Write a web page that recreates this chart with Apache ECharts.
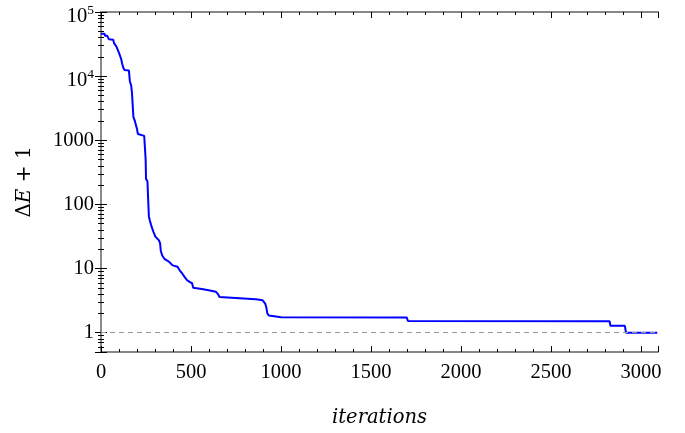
<!DOCTYPE html>
<html>
<head>
<meta charset="utf-8">
<script src="https://cdn.jsdelivr.net/npm/echarts@6/dist/echarts.min.js"></script>
<style>
  html, body { margin: 0; padding: 0; background: #fff; }
  #chart { width: 685px; height: 433px; }
</style>
</head>
<body>
<div id="chart"></div>
<script>
// Best energy gap found so far (ΔE + 1) against optimiser iteration
var iterations = [0, 20, 22, 35, 44, 68, 72, 85, 100, 112, 118, 124, 130, 155, 160, 168, 172, 180, 188, 196,
  200, 205, 212, 240, 244, 248, 250, 258, 262, 266, 272, 278, 285, 292, 302, 312, 322, 328, 332, 340,
  352, 370, 382, 398, 425, 438, 452, 466, 478, 492, 506, 512, 540, 568, 605, 638, 650, 658, 662, 860,
  870, 898, 905, 912, 918, 924, 932, 942, 1000, 1698, 1705, 2825, 2830, 2910, 2916, 3090];
var deltaE = [46000, 46000, 42500, 42500, 37500, 37000, 33000, 29000, 23000, 18500, 15500, 13500, 12500, 12200, 8500, 7000, 5500, 2300, 2000, 1900,
  1500, 1250, 1180, 1170, 1100, 500, 250, 230, 120, 65, 55, 48, 42, 37, 31.5, 30, 27.5, 25, 19, 16,
  14.2, 13.2, 12.4, 11.2, 10.7, 9.3, 8.3, 7.3, 6.6, 6.2, 5.9, 5.0, 4.9, 4.75, 4.55, 4.35, 4.0, 3.6, 3.38, 3.33,
  3.3, 3.2, 3.15, 2.85, 2.5, 2.0, 1.85, 1.76, 1.74, 1.73, 1.52, 1.51, 1.28, 1.28, 1.0, 1.0];
var referenceLevel = 1;
var xRange = [0, 3094];
var yRange = [0.5, 100000];
var xTickStep = 500;

var FONT = 'Liberation Serif';
var NAME_FONT = 'DejaVu Serif';
var frameColor = '#888';

function yLabel(value) {
  var e = Math.log10(value);
  var r = Math.round(e);
  if (Math.abs(e - r) > 1e-6) return '';
  if (r >= 4) return '{b|10}{s|' + r + '}';
  return String(Math.round(value));
}

var points = iterations.map(function (it, i) { return [it, deltaE[i]]; });

var commonX = {
  type: 'value',
  min: xRange[0],
  max: xRange[1],
  interval: xTickStep,
  splitLine: { show: false },
  axisLine: { show: true, onZero: false, lineStyle: { color: frameColor, width: 2 } },
  axisTick: { show: true, inside: true, length: 6, lineStyle: { color: '#000', width: 1 } },
  minorTick: { show: true, splitNumber: 5, length: 3, lineStyle: { color: '#000', width: 1 } },
  minorSplitLine: { show: false }
};
var commonY = {
  type: 'log',
  logBase: 10,
  min: yRange[0],
  max: yRange[1],
  splitLine: { show: false },
  axisLine: { show: true, lineStyle: { color: frameColor, width: 2 } },
  axisTick: { show: true, inside: true, length: 6, lineStyle: { color: '#000', width: 1 } },
  minorTick: { show: true, splitNumber: 9, length: 3, lineStyle: { color: '#000', width: 1 } },
  minorSplitLine: { show: false }
};

var chart = echarts.init(document.getElementById('chart'), null, { renderer: 'canvas' });
chart.setOption({
  animation: false,
  backgroundColor: '#fff',
  grid: { left: 101, right: 27, top: 12, bottom: 77, containLabel: false },
  xAxis: [
    Object.assign({}, commonX, {
      position: 'bottom',
      name: 'iterations',
      nameLocation: 'middle',
      nameGap: 56,
      nameTextStyle: { fontFamily: NAME_FONT, fontStyle: 'italic', fontSize: 19.5, color: '#000' },
      axisLabel: { show: true, margin: 10, showMaxLabel: false, fontFamily: FONT, fontSize: 20.5, color: '#000',
        formatter: function (v) { return v % xTickStep === 0 ? String(v) : ''; } }
    }),
    Object.assign({}, commonX, { position: 'top', axisLabel: { show: false } })
  ],
  yAxis: [
    Object.assign({}, commonY, {
      position: 'left',
      name: '{n|Δ}{i|E}{n| + 1}',
      nameLocation: 'middle',
      nameGap: 66,
      nameTextStyle: {
        color: '#000', fontFamily: NAME_FONT, fontSize: 20,
        rich: {
          n: { fontFamily: NAME_FONT, fontSize: 20, color: '#000' },
          i: { fontFamily: NAME_FONT, fontSize: 20, fontStyle: 'italic', color: '#000' }
        }
      },
      axisLabel: {
        show: true, margin: 7, fontFamily: FONT, fontSize: 20.5, color: '#000',
        formatter: yLabel,
        rich: {
          b: { fontFamily: FONT, fontSize: 20.5, color: '#000', lineHeight: 30, verticalAlign: 'bottom' },
          s: { fontFamily: FONT, fontSize: 13.5, color: '#000', verticalAlign: 'middle', padding: [0, 0, 3, 0] }
        }
      }
    }),
    Object.assign({}, commonY, { position: 'right', axisLabel: { show: false } })
  ],
  series: [{
    type: 'line',
    xAxisIndex: 0,
    yAxisIndex: 0,
    data: points,
    symbol: 'none',
    lineStyle: { color: '#0000ff', width: 2 },
    itemStyle: { color: '#0000ff' },
    z: 3,
    markLine: {
      silent: true,
      symbol: 'none',
      label: { show: false },
      lineStyle: { color: '#999', width: 1, type: [5, 4] },
      data: [{ yAxis: referenceLevel }]
    }
  }]
});
</script>
</body>
</html>
